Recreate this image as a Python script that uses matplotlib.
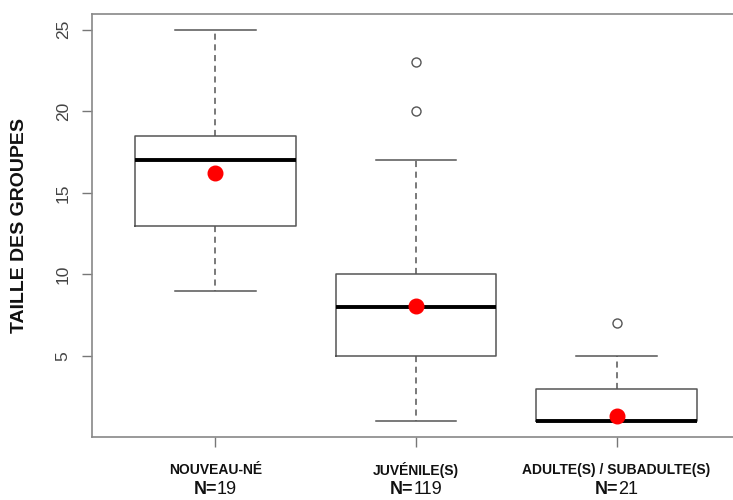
import matplotlib
matplotlib.use("Agg")
import matplotlib.pyplot as plt
from matplotlib.transforms import offset_copy

plt.rcParams["font.family"] = ["Liberation Sans", "DejaVu Sans"]

# Category labels and sample sizes
categories = ["NOUVEAU-NÉ", "JUVÉNILE(S)", "ADULTE(S) / SUBADULTE(S)"]
counts = [19, 119, 21]

# Box statistics
whisker_low = [9, 1, 1]
q1 = [13, 5, 1]
medians = [17, 8, 1]
q3 = [18.5, 10, 3]
whisker_high = [25, 17, 5]
outliers = [[], [20, 23], [7]]
means = [16.2, 8.05, 1.35]

grey = "#555555"

fig = plt.figure(figsize=(7.33, 5.0), dpi=100)
ax = fig.add_axes([0.125, 0.126, 0.885, 0.846])

stats = []
for i in range(len(categories)):
    stats.append({
        "whislo": whisker_low[i], "q1": q1[i], "med": medians[i],
        "q3": q3[i], "whishi": whisker_high[i], "fliers": outliers[i],
        "label": categories[i],
    })

positions = list(range(1, len(categories) + 1))
ax.bxp(stats, positions=positions, widths=0.8, showfliers=True,
       boxprops=dict(color=grey, linewidth=1.1),
       medianprops=dict(color="black", linewidth=2.8),
       whiskerprops=dict(color=grey, linewidth=1.1, linestyle=(0, (4, 3))),
       capprops=dict(color=grey, linewidth=1.1),
       capwidths=0.4,
       flierprops=dict(marker="o", markersize=6.5, markerfacecolor="none",
                       markeredgecolor=grey, markeredgewidth=1.0))

ax.plot(positions, means, "o", color="red", markersize=10.5, zorder=5)

ax.set_xlim(0.383, 3.617)
ax.set_ylim(0.04, 25.96)
ax.set_yticks([5, 10, 15, 20, 25])
ax.set_yticklabels(["5", "10", "15", "20", "25"], rotation=90, va="center",
                   fontsize=12.5, color="#444444")
ax.set_xticks(positions)
ax.set_xticklabels([])
ax.tick_params(axis="both", direction="out", length=7, width=1.0, color="#777777")
ax.tick_params(axis="y", pad=8)

for sp in ax.spines.values():
    sp.set_color("#888888")
    sp.set_linewidth(1.2)

ax.set_ylabel("TAILLE DES GROUPES", fontsize=14, fontweight="bold", labelpad=20,
              color="#111111")

# Category names and "N=" lines under the axis
trans = ax.get_xaxis_transform()
renderer = fig.canvas.get_renderer()
for pos, name, n in zip(positions, categories, counts):
    ax.text(pos, -0.078, name, transform=trans, ha="center", va="center",
            fontsize=10, fontweight="bold", color="#111111")
    t1 = ax.text(pos, -0.125, "N=", transform=trans, ha="right", va="center",
                 fontsize=13, fontweight="bold", color="#111111")
    t2 = ax.text(pos, -0.125, str(n), transform=trans, ha="left", va="center",
                 fontsize=13, color="#111111")
    w1 = t1.get_window_extent(renderer).width
    w2 = t2.get_window_extent(renderer).width
    shift = (w1 - w2) / 2.0 * 72.0 / fig.dpi
    t1.set_transform(offset_copy(trans, fig=fig, x=shift, units="points"))
    t2.set_transform(offset_copy(trans, fig=fig, x=shift, units="points"))

fig.savefig("out.png", dpi=100)
